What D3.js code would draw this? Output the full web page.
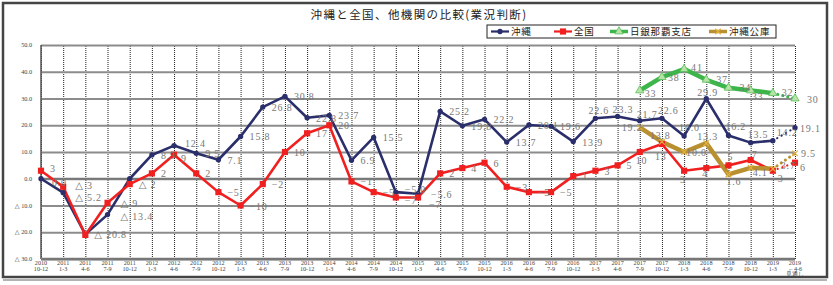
<!DOCTYPE html>
<html lang="ja">
<head>
  <meta charset="UTF-8">
  <title>沖縄と全国、他機関の比較(業況判断)</title>
  <style>
    body {
      margin: 0;
      background: #fff;
    }
    svg text {
      font-family: "Noto Sans CJK JP", "DejaVu Sans", sans-serif;
    }
    .val {
      font-family: "Liberation Serif", "DejaVu Serif", serif !important;
      font-size: 10px;
      fill: #777;
      letter-spacing: 0.8px;
    }
    .tick-y, .tick-x {
      font-family: "Liberation Serif", "DejaVu Serif", serif !important;
      font-size: 6.2px;
      fill: #444;
    }
  </style>
</head>
<body>
  <div id="chart"></div>

  <script src="https://d3js.org/d3.v7.min.js"></script>
  <script>
    // 期間 (年 / 四半期)
    const years = ["2010","2011","2011","2011","2011","2012","2012","2012","2012","2013","2013","2013","2013",
                   "2014","2014","2014","2014","2015","2015","2015","2015","2016","2016","2016","2016",
                   "2017","2017","2017","2017","2018","2018","2018","2018","2019","2019"];
    const quarters = ["10-12","1-3","4-6","7-9","10-12","1-3","4-6","7-9","10-12","1-3","4-6","7-9","10-12",
                      "1-3","4-6","7-9","10-12","1-3","4-6","7-9","10-12","1-3","4-6","7-9","10-12",
                      "1-3","4-6","7-9","10-12","1-3","4-6","7-9","10-12","1-3","4-6"];

    // 業況判断 DI
    const okinawa = [0.0, -5.2, -20.8, -13.4, 0.0, 8.9, 12.4, 9.5, 7.1, 15.8, 26.8, 30.8, 22.8,
                     23.7, 6.9, 15.5, -5.0, -5.6, 25.2, 19.8, 22.2, 13.7, 20.1, 19.6, 13.9,
                     22.6, 23.3, 21.7, 22.6, 16.0, 29.9, 16.2, 13.5, 14.2, 19.1];
    const zenkoku = [3, -3, -21, -9, -2, 2, 9, 2, -5, -10, -2, 10, 17,
                     20, -1, -5, -7, -7, 2, 4, 6, -3, -5, -5, 1,
                     3, 5, 10, 13, 3, 4, 5, 7, 3, 6];
    const nichigin = [null, null, null, null, null, null, null, null, null, null, null, null, null,
                      null, null, null, null, null, null, null, null, null, null, null, null,
                      null, null, 33, 38, 41, 37, 34, 33, 32, 30];
    const koko = [null, null, null, null, null, null, null, null, null, null, null, null, null,
                  null, null, null, null, null, null, null, null, null, null, null, null,
                  null, null, 19.2, 13.8, 10, 13.3, 1.6, 4.1, 3.7, 9.5];

    const yTicks = [50, 40, 30, 20, 10, 0, -10, -20, -30];

    const W = 833, H = 285;
    const svg = d3.select("#chart").append("svg")
      .attr("width", W).attr("height", H);

    // 外枠
    svg.append("rect")
      .attr("x", 3).attr("y", 3).attr("width", 824).attr("height", 274)
      .attr("fill", "#fff").attr("stroke", "#444").attr("stroke-width", 2.5);
    svg.append("line")
      .attr("x1", 3).attr("x2", 827).attr("y1", 280).attr("y2", 280)
      .attr("stroke", "#666").attr("stroke-width", 1);

    // タイトル
    svg.append("text")
      .attr("x", 419).attr("y", 19)
      .attr("text-anchor", "middle")
      .attr("font-size", 11.5)
      .attr("letter-spacing", 1.4)
      .attr("fill", "#222")
      .text("沖縄と全国、他機関の比較(業況判断)");

    const pLeft = 41, pRight = 795, pTop = 45, pBottom = 259;
    const x = d3.scalePoint().domain(d3.range(years.length)).range([pLeft, pRight]);
    const y = d3.scaleLinear().domain([-30, 50]).range([pBottom, pTop]);

    // 縦のグリッド (点線)
    svg.append("g")
      .attr("transform", `translate(0,${pBottom})`)
      .call(d3.axisBottom(x).tickSize(-(pBottom - pTop)).tickFormat(""))
      .call(g => g.select(".domain").remove())
      .call(g => g.selectAll(".tick line")
        .attr("stroke", "#222").attr("stroke-width", 1).attr("stroke-dasharray", "1,1"));

    // 横のグリッド
    svg.append("g")
      .attr("transform", `translate(${pLeft},0)`)
      .call(d3.axisLeft(y).tickValues(yTicks).tickSize(-(pRight - pLeft)).tickFormat(""))
      .call(g => g.select(".domain").remove())
      .call(g => g.selectAll(".tick line")
        .attr("stroke", "#8c8c8c").attr("stroke-width", 2));

    // 0 の線
    svg.append("line")
      .attr("x1", pLeft).attr("x2", pRight).attr("y1", y(0)).attr("y2", y(0))
      .attr("stroke", "#777").attr("stroke-width", 2);
    // 左・下の軸線
    svg.append("line")
      .attr("x1", pLeft).attr("x2", pLeft).attr("y1", pTop).attr("y2", pBottom)
      .attr("stroke", "#555").attr("stroke-width", 1.5);
    svg.append("line")
      .attr("x1", pLeft).attr("x2", pRight).attr("y1", pBottom).attr("y2", pBottom)
      .attr("stroke", "#777").attr("stroke-width", 2.5);

    // Y軸ラベル
    svg.append("g").selectAll("text")
      .data(yTicks)
      .join("text")
      .attr("class", "tick-y")
      .attr("x", 32)
      .attr("y", d => y(d) + 2)
      .attr("text-anchor", "end")
      .text(d => d < 0 ? "△ " + Math.abs(d).toFixed(1) : d.toFixed(1));

    // X軸ラベル
    const xl = svg.append("g").selectAll("text")
      .data(years.map((yr, i) => ({ yr, q: quarters[i], i })))
      .join("text")
      .attr("class", "tick-x")
      .attr("text-anchor", "middle")
      .attr("transform", d => `translate(${x(d.i)},${pBottom + 6})`);
    xl.append("tspan").attr("x", 0).attr("dy", 0).text(d => d.yr);
    xl.append("tspan").attr("x", 0).attr("dy", 5.6).text(d => d.i === years.length - 1 ? "\u2190" + d.q : d.q);
    xl.filter(d => d.i === years.length - 1)
      .append("tspan").attr("x", 0).attr("dy", 5.8).text("見通し");

    const last = years.length - 1;

    const series = [
      { name: "沖縄", values: okinawa, color: "#2a2e6a", width: 2.6, marker: "circle", decimals: 1 },
      { name: "全国", values: zenkoku, color: "#f02020", width: 2.6, marker: "square", decimals: 0 },
      { name: "日銀那覇支店", values: nichigin, color: "#3cb54a", width: 4.5, marker: "triangle", decimals: 0 },
      { name: "沖縄公庫", values: koko, color: "#b89030", width: 4.5, marker: "cross", decimals: 1 }
    ];

    const line = d3.line()
      .defined(d => d.v !== null)
      .x(d => x(d.i))
      .y(d => y(d.v));

    const symbolOf = {
      circle: d3.symbolCircle,
      square: d3.symbolSquare
    };

    function drawMarker(g, type, color, cx, cy) {
      if (type === "triangle") {
        g.append("path")
          .attr("d", d3.symbol(d3.symbolTriangle, 30)())
          .attr("transform", `translate(${cx},${cy})`)
          .attr("fill", "#b7e3a8").attr("stroke", "#5cbf5c").attr("stroke-width", 0.8);
      } else if (type === "cross") {
        g.append("path")
          .attr("d", d3.symbol(d3.symbolX, 22)())
          .attr("transform", `translate(${cx},${cy})`)
          .attr("fill", "none").attr("stroke", "#e0b040").attr("stroke-width", 1.2);
      } else {
        g.append("path")
          .attr("d", d3.symbol(symbolOf[type], type === "square" ? 38 : 22)())
          .attr("transform", `translate(${cx},${cy})`)
          .attr("fill", color);
      }
    }

    function fmt(v, dec, i) {
      const s = dec ? Math.abs(v).toFixed(dec) : String(Math.abs(v));
      if (v < 0) return (i <= 4 ? "△ " : "\u2212") + s;
      return s;
    }

    // ラベル位置の微調整 (系列名 -> index -> [dx, dy])
    const labelShift = {
      "沖縄": { 0: [2, 3], 1: [3, 4], 3: [4, 1], 6: [2, -3], 16: [0, -3], 17: [4, 0], 25: [-16, -8], 26: [-14, -7], 27: [-12, -7],
               28: [-13, -8], 29: [-14, -9], 30: [-18, -7], 31: [-12, -9], 32: [-12, -9], 33: [-5, -9], 34: [-4, 0] },
      "全国": { 0: [0, -3], 1: [3, -2], 3: [4, 0], 6: [-2, 3], 16: [0, 3], 17: [2, 7], 27: [-13, 8], 28: [-16, 12], 29: [-13, 8],
               30: [-13, 5], 31: [-10, -9], 32: [-8, -6], 33: [-4, 7], 34: [-4, 4] },
      "日銀那覇支店": { 27: [-4, 3], 28: [-3, 0], 29: [-2, -2], 30: [1, -1], 31: [2, -1], 32: [-8, 6],
                       33: [0, -1], 34: [3, 0] },
      "沖縄公庫": { 27: [-27, 0], 28: [-21, -7], 29: [-7, 0], 30: [-18, -7], 31: [-11, 7], 32: [-7, 4],
                   33: [-1, -4], 34: [-3, 0] }
    };
    // 参照図で見えないラベル
    const hideLabel = { "沖縄": [4], "全国": [2], "日銀那覇支店": [], "沖縄公庫": [] };

    const plot = svg.append("g");

    series.forEach(s => {
      const pts = s.values.map((v, i) => ({ v, i }));
      const solid = pts.map(p => p.i === last ? { v: null, i: p.i } : p);
      const fore = pts.filter(p => p.i >= last - 1);

      plot.append("path")
        .datum(solid)
        .attr("d", line)
        .attr("fill", "none")
        .attr("stroke", s.color)
        .attr("stroke-width", s.width)
        .attr("stroke-linejoin", "round");

      plot.append("path")
        .datum(fore)
        .attr("d", line)
        .attr("fill", "none")
        .attr("stroke", s.color)
        .attr("stroke-width", s.width > 3 ? 3 : 2.2)
        .attr("stroke-linecap", "round")
        .attr("stroke-dasharray", "0.1,5");
    });

    series.forEach(s => {
      const g = plot.append("g");
      s.values.forEach((v, i) => {
        if (v === null) return;
        drawMarker(g, s.marker, s.color, x(i), y(v));
      });
    });

    // 値ラベル
    series.forEach(s => {
      const shift = labelShift[s.name];
      const hide = hideLabel[s.name];
      plot.append("g").selectAll("text")
        .data(s.values.map((v, i) => ({ v, i })).filter(d => d.v !== null && !hide.includes(d.i)))
        .join("text")
        .attr("class", "val")
        .attr("x", d => x(d.i) + 9 + (shift[d.i] ? shift[d.i][0] : 0))
        .attr("y", d => y(d.v) + 4 + (shift[d.i] ? shift[d.i][1] : 0))
        .text(d => fmt(d.v, s.decimals, d.i));
    });

    // 凡例
    const lg = svg.append("g");
    lg.append("rect")
      .attr("x", 487).attr("y", 25).attr("width", 289).attr("height", 13)
      .attr("fill", "#fff").attr("stroke", "#222").attr("stroke-width", 1);
    const legendX = [491, 554, 610, 709];
    series.forEach((s, k) => {
      const lx = legendX[k], ly = 31.5;
      lg.append("line")
        .attr("x1", lx).attr("x2", lx + 18).attr("y1", ly).attr("y2", ly)
        .attr("stroke", s.color).attr("stroke-width", s.width > 3 ? 3.5 : 2.2);
      drawMarker(lg, s.marker, s.color, lx + 9, ly);
      lg.append("text")
        .attr("x", lx + 20).attr("y", ly + 3.5)
        .attr("font-size", 9.5)
        .attr("letter-spacing", 0.8)
        .attr("fill", "#222")
        .text(s.name);
    });
  </script>
</body>
</html>
